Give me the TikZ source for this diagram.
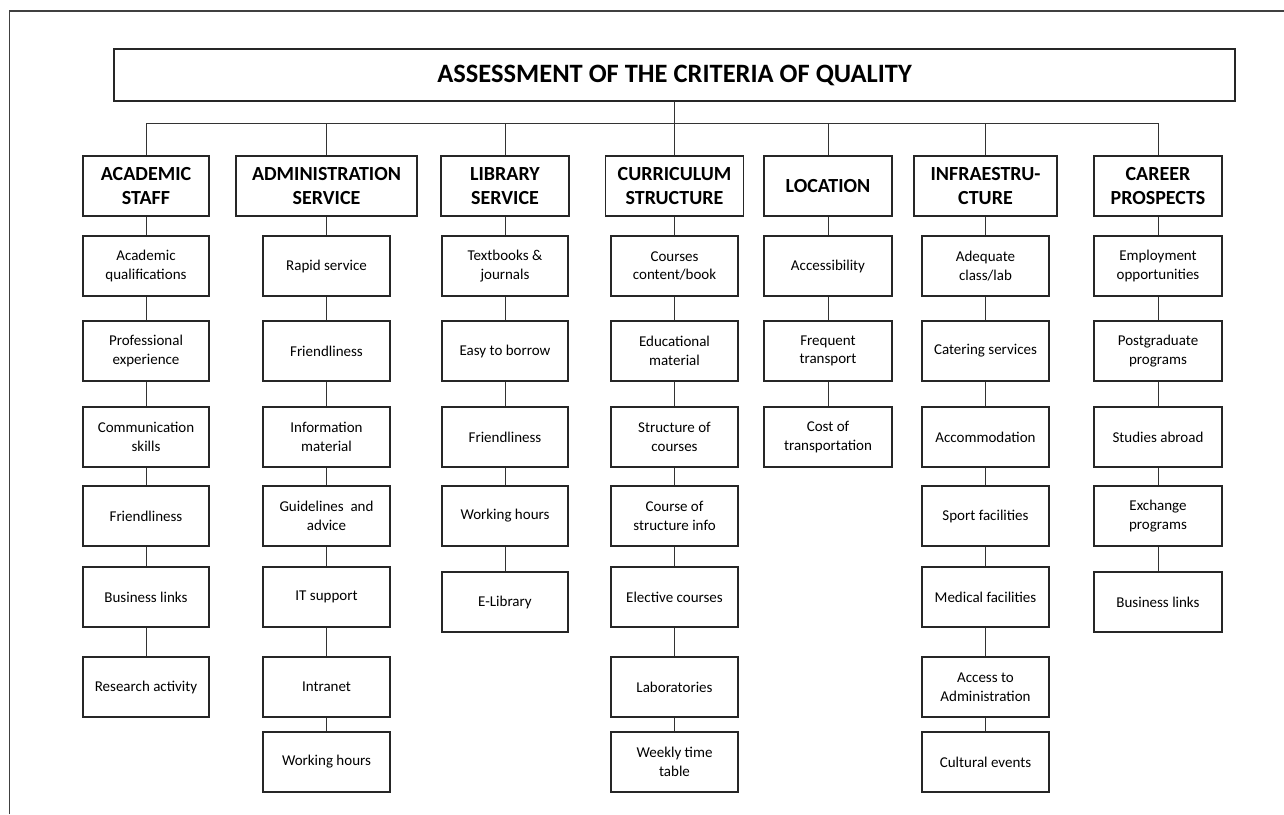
\documentclass[tikz,border=0pt]{standalone}
\usepackage{fontspec}
\setmainfont{Carlito}
\begin{document}
\begin{tikzpicture}[x=1pt,y=-1pt,
  box/.style={draw=black!85, line width=1.2pt, rectangle, inner sep=2pt, align=center, minimum height=60pt},
  sub/.style={box, font=\fontsize{15}{18.5}\selectfont},
  head/.style={box, font=\fontsize{20}{24}\selectfont\bfseries},
  conn/.style={draw=black!80, line width=1pt},
  frame/.style={draw=black!75, line width=1.2pt}]
\useasboundingbox (0,0) rectangle (1284,814);
\draw[frame] (9.5,814) -- (9.5,11) -- (1284,11);
\def\rowy#1{\ifcase#1\or266\or351\or437\or516\or597\or687\or762\fi}
\newcommand\mkcol[5]{%
  \foreach \t [count=\i] in {#5}{%
    \pgfmathtruncatemacro\j{\i-1}%
    \ifnum\i=5 \def\yy{#4}\else\edef\yy{\rowy{\i}}\fi
    \node[sub, minimum width=#3] (#1\i) at (#2,\yy) {\t};
    \ifnum\i=1 \draw[conn] (#1) -- (#1\i);\else\draw[conn] (#1\j) -- (#1\i);\fi
  }}
\node[box, minimum width=1121pt, minimum height=52pt, font=\fontsize{26.5}{30}\selectfont\bfseries] (title) at (674.5,75) {ASSESSMENT OF THE CRITERIA OF QUALITY};
\coordinate (bus) at (674.5,123);
\node[head, minimum width=126pt] (A) at (146,186) {ACADEMIC\\STAFF};
\node[head, minimum width=181pt] (B) at (326.5,186) {ADMINISTRATION\\SERVICE};
\node[head, minimum width=128pt] (C) at (505,186) {LIBRARY\\SERVICE};
\node[head, minimum width=138pt] (D) at (674.5,186) {CURRICULUM\\STRUCTURE};
\node[head, minimum width=128pt] (E) at (828,186) {LOCATION};
\node[head, minimum width=143pt] (F) at (985.5,186) {INFRAESTRU-\\CTURE};
\node[head, minimum width=128pt] (G) at (1158,186) {CAREER\\PROSPECTS};
\draw[conn] (title) -- (bus);
\foreach \h in {A,B,C,D,E,F,G}{\draw[conn] (bus) -| (\h);}
\mkcol{A}{146}{126pt}{597}{{Academic\\qualifications},{Professional\\experience},{Communication\\skills},Friendliness,Business links,Research activity}
\mkcol{B}{326.5}{127pt}{597}{Rapid service,Friendliness,{Information\\material},{Guidelines\ \ and\\advice},IT support,Intranet,Working hours}
\mkcol{C}{505}{126pt}{602}{{Textbooks \&\\journals},Easy to borrow,Friendliness,Working hours,E-Library}
\mkcol{D}{674.5}{127pt}{597}{{Courses\\content/book},{Educational\\material},{Structure of\\courses},{Course of\\structure info},Elective courses,Laboratories,{Weekly time\\table}}
\mkcol{E}{828}{128pt}{597}{Accessibility,{Frequent\\transport},{Cost of\\transportation}}
\mkcol{F}{985.5}{127pt}{597}{{Adequate\\class/lab},Catering services,Accommodation,Sport facilities,Medical facilities,{Access to\\Administration},Cultural events}
\mkcol{G}{1158}{128pt}{602}{{Employment\\opportunities},{Postgraduate\\programs},Studies abroad,{Exchange\\programs},Business links}
\end{tikzpicture}
\end{document}
